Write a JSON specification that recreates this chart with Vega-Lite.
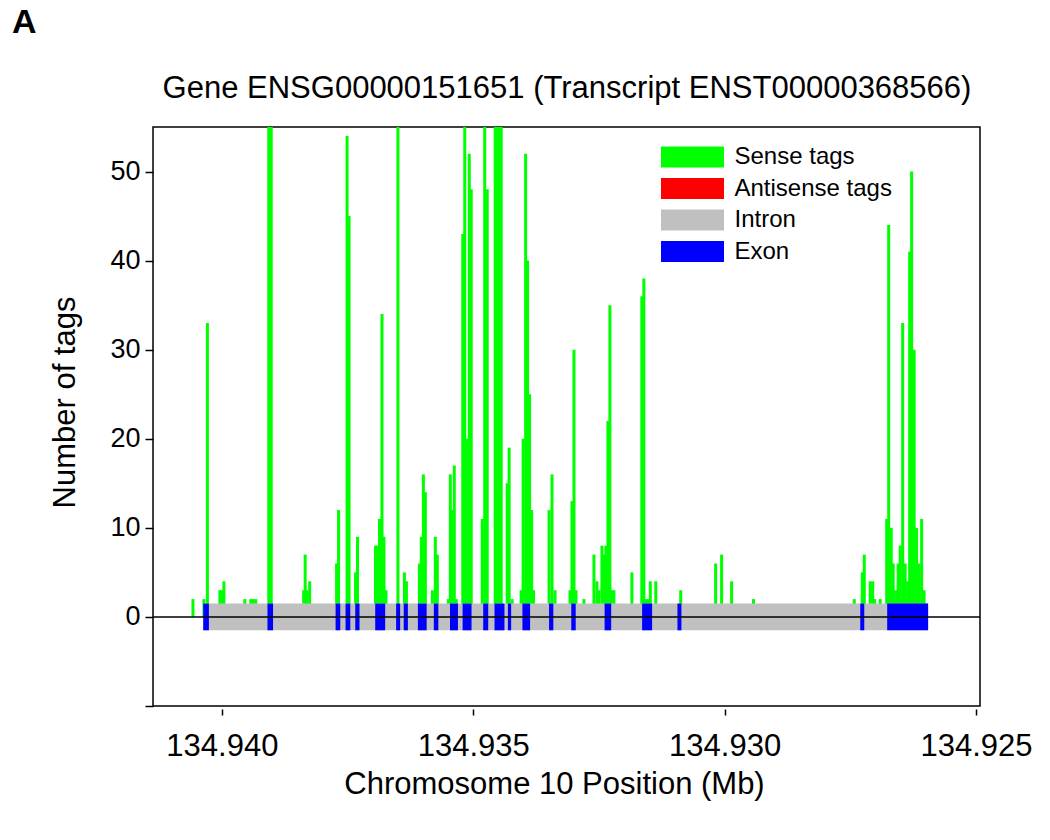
{
  "$schema": "https://vega.github.io/schema/vega-lite/v6.json",
  "autosize": {"type": "none"},
  "width": 827,
  "height": 579,
  "padding": {"left": 153, "top": 127, "right": 70, "bottom": 134},
  "background": "white",
  "config": {
    "view": {"stroke": "black", "strokeWidth": 1.5},
    "font": "Liberation Sans",
    "axis": {"labelFont": "Liberation Sans", "titleFont": "Liberation Sans", "labelColor": "black", "titleColor": "black", "tickColor": "black", "grid": false, "titleFontWeight": "normal"},
    "legend": {"labelFont": "Liberation Sans", "labelColor": "black"}
  },
  "title": {"text": "A", "anchor": "start", "frame": "group", "dx": -141, "offset": 5, "baseline": "alphabetic", "fontSize": 34, "fontWeight": "bold", "font": "Liberation Sans", "color": "black"},
  "datasets": {
    "tags": [
      {"pos": 134.940575, "count": 2}, {"pos": 134.940357, "count": 2}, {"pos": 134.940288, "count": 33},
      {"pos": 134.94004, "count": 3}, {"pos": 134.94, "count": 3}, {"pos": 134.93996, "count": 4},
      {"pos": 134.939544, "count": 2}, {"pos": 134.939425, "count": 2}, {"pos": 134.939375, "count": 2}, {"pos": 134.939325, "count": 2},
      {"pos": 134.939067, "count": 60}, {"pos": 134.939018, "count": 60},
      {"pos": 134.938373, "count": 3}, {"pos": 134.938343, "count": 7}, {"pos": 134.938304, "count": 3}, {"pos": 134.938254, "count": 4},
      {"pos": 134.937718, "count": 6}, {"pos": 134.937679, "count": 12}, {"pos": 134.93751, "count": 54}, {"pos": 134.93747, "count": 45},
      {"pos": 134.937341, "count": 5}, {"pos": 134.937302, "count": 9},
      {"pos": 134.936944, "count": 8}, {"pos": 134.936905, "count": 8}, {"pos": 134.936865, "count": 11}, {"pos": 134.936815, "count": 34}, {"pos": 134.936776, "count": 9}, {"pos": 134.936736, "count": 3},
      {"pos": 134.936498, "count": 60}, {"pos": 134.936369, "count": 5}, {"pos": 134.936329, "count": 4},
      {"pos": 134.936071, "count": 6}, {"pos": 134.936032, "count": 9}, {"pos": 134.935992, "count": 16}, {"pos": 134.935952, "count": 14},
      {"pos": 134.935813, "count": 3}, {"pos": 134.935754, "count": 9}, {"pos": 134.935714, "count": 7},
      {"pos": 134.935496, "count": 2}, {"pos": 134.935456, "count": 16}, {"pos": 134.935417, "count": 12}, {"pos": 134.935377, "count": 17}, {"pos": 134.935337, "count": 2},
      {"pos": 134.935208, "count": 43}, {"pos": 134.935169, "count": 60}, {"pos": 134.935119, "count": 20}, {"pos": 134.935079, "count": 52}, {"pos": 134.93504, "count": 48},
      {"pos": 134.934821, "count": 11}, {"pos": 134.934772, "count": 60}, {"pos": 134.934722, "count": 48},
      {"pos": 134.934563, "count": 60}, {"pos": 134.934524, "count": 60}, {"pos": 134.934484, "count": 60}, {"pos": 134.934444, "count": 60},
      {"pos": 134.934325, "count": 15}, {"pos": 134.934286, "count": 19}, {"pos": 134.934226, "count": 2},
      {"pos": 134.934048, "count": 3}, {"pos": 134.934008, "count": 20}, {"pos": 134.933958, "count": 52}, {"pos": 134.933919, "count": 40}, {"pos": 134.933879, "count": 25}, {"pos": 134.933839, "count": 12}, {"pos": 134.9338, "count": 3},
      {"pos": 134.933492, "count": 12}, {"pos": 134.933433, "count": 16}, {"pos": 134.933373, "count": 3},
      {"pos": 134.933075, "count": 3}, {"pos": 134.933036, "count": 13}, {"pos": 134.932996, "count": 30}, {"pos": 134.932956, "count": 3},
      {"pos": 134.932798, "count": 2},
      {"pos": 134.932599, "count": 7}, {"pos": 134.93254, "count": 4}, {"pos": 134.9325, "count": 3}, {"pos": 134.93244, "count": 8}, {"pos": 134.932401, "count": 7}, {"pos": 134.932361, "count": 8}, {"pos": 134.932321, "count": 22}, {"pos": 134.932282, "count": 35}, {"pos": 134.932242, "count": 3}, {"pos": 134.932202, "count": 3},
      {"pos": 134.931845, "count": 5},
      {"pos": 134.931647, "count": 36}, {"pos": 134.931607, "count": 38}, {"pos": 134.931567, "count": 2}, {"pos": 134.931518, "count": 2}, {"pos": 134.931478, "count": 4}, {"pos": 134.931369, "count": 4},
      {"pos": 134.930873, "count": 3}, {"pos": 134.930179, "count": 6}, {"pos": 134.93006, "count": 7}, {"pos": 134.929861, "count": 4}, {"pos": 134.929425, "count": 2},
      {"pos": 134.927421, "count": 2}, {"pos": 134.927262, "count": 5}, {"pos": 134.927222, "count": 7}, {"pos": 134.927103, "count": 4}, {"pos": 134.927054, "count": 4}, {"pos": 134.927014, "count": 2}, {"pos": 134.926905, "count": 2},
      {"pos": 134.926776, "count": 11}, {"pos": 134.926736, "count": 44}, {"pos": 134.926686, "count": 10}, {"pos": 134.926647, "count": 6}, {"pos": 134.926597, "count": 3}, {"pos": 134.926548, "count": 6}, {"pos": 134.926508, "count": 8},
      {"pos": 134.926458, "count": 33}, {"pos": 134.926409, "count": 6}, {"pos": 134.926359, "count": 4}, {"pos": 134.926319, "count": 41}, {"pos": 134.92628, "count": 50}, {"pos": 134.92623, "count": 30},
      {"pos": 134.926181, "count": 10}, {"pos": 134.926131, "count": 6}, {"pos": 134.926081, "count": 11}, {"pos": 134.926032, "count": 3}
    ],
    "exons": [
      {"start": 134.940371, "end": 134.940258}, {"start": 134.939093, "end": 134.938982},
      {"start": 134.937738, "end": 134.937645}, {"start": 134.93754, "end": 134.937446},
      {"start": 134.937347, "end": 134.937262}, {"start": 134.93695, "end": 134.936752},
      {"start": 134.936534, "end": 134.936454}, {"start": 134.936383, "end": 134.9363},
      {"start": 134.936101, "end": 134.935927}, {"start": 134.935784, "end": 134.935694},
      {"start": 134.935462, "end": 134.935304}, {"start": 134.935212, "end": 134.935034},
      {"start": 134.934802, "end": 134.934702}, {"start": 134.934577, "end": 134.934379},
      {"start": 134.934311, "end": 134.934246}, {"start": 134.934022, "end": 134.933869},
      {"start": 134.933492, "end": 134.933407}, {"start": 134.93305, "end": 134.932962},
      {"start": 134.932387, "end": 134.932256}, {"start": 134.931641, "end": 134.931442},
      {"start": 134.930938, "end": 134.930859}, {"start": 134.927302, "end": 134.927222},
      {"start": 134.926766, "end": 134.925952}
    ],
    "intron": [{"start": 134.940371, "end": 134.925952}]
  },
  "resolve": {"axis": {"x": "independent"}},
  "layer": [
    {
      "data": {"name": "tags"},
      "mark": {"type": "bar", "width": 3, "clip": true},
      "encoding": {
        "x": {"field": "pos", "type": "quantitative",
          "scale": {"domain": [134.92492, 134.94137], "reverse": true, "nice": false, "zero": false, "padding": 0},
          "axis": {"orient": "bottom", "values": [134.94, 134.935, 134.93, 134.925], "format": ".3f", "labelFontSize": 31, "labelFlush": false, "labelOverlap": false, "tickSize": 6, "tickWidth": 1.5, "domain": false, "offset": 3, "labelPadding": 16, "title": "Chromosome 10 Position (Mb)", "titleFontSize": 31, "titleX": 401, "titleY": 84, "titleBaseline": "alphabetic", "titleAlign": "center"}},
        "y": {"field": "count", "type": "quantitative",
          "scale": {"domain": [-10, 55], "nice": false, "zero": false, "padding": 0},
          "axis": {"values": [-10, 0, 10, 20, 30, 40, 50], "labelExpr": "datum.value == -10 ? '' : datum.label", "labelFontSize": 27, "tickSize": 8, "tickWidth": 1.5, "labelPadding": 5, "domain": false, "title": "Number of tags", "titleFontSize": 31, "titleX": -79, "titleY": 275, "titleBaseline": "alphabetic", "titleAngle": -90, "titleAlign": "center"}},
        "y2": {"datum": 0},
        "color": {"datum": "Sense tags", "type": "nominal",
          "scale": {"domain": ["Sense tags", "Antisense tags", "Intron", "Exon"], "range": ["#00ff00", "#ff0000", "#c0c0c0", "#0000ff"]},
          "legend": {"orient": "none", "legendX": 527.5, "legendY": 18, "title": null, "padding": 0,
            "symbolType": "M-3.15,-1.05H3.15V1.05H-3.15Z", "symbolSize": 400, "symbolStrokeWidth": 0, "symbolOpacity": 1,
            "labelFontSize": 24, "labelOffset": 30, "rowPadding": 7.5,
            "values": ["Sense tags", "Antisense tags", "Intron", "Exon"]}}
      }
    },
    {
      "data": {"name": "intron"},
      "mark": {"type": "rect"},
      "encoding": {
        "x": {"field": "start", "type": "quantitative",
          "axis": {"orient": "top", "labels": false, "ticks": false, "domain": false, "title": "Gene ENSG00000151651 (Transcript ENST00000368566)", "titleFontSize": 31, "titleX": 413.5, "titleY": -30, "titleBaseline": "alphabetic", "titleAlign": "center", "titleAngle": 0}},
        "x2": {"field": "end"},
        "y": {"datum": -1.5, "type": "quantitative"},
        "y2": {"datum": 1.5},
        "color": {"datum": "Intron", "type": "nominal"}
      }
    },
    {
      "data": {"name": "exons"},
      "mark": {"type": "rect"},
      "encoding": {
        "x": {"field": "start", "type": "quantitative", "axis": null},
        "x2": {"field": "end"},
        "y": {"datum": -1.5, "type": "quantitative"},
        "y2": {"datum": 1.5},
        "color": {"datum": "Exon", "type": "nominal"}
      }
    },
    {
      "data": {"values": [{}]},
      "mark": {"type": "rule", "color": "black", "strokeWidth": 1.5},
      "encoding": {"y": {"datum": 0, "type": "quantitative"}}
    }
  ]
}
